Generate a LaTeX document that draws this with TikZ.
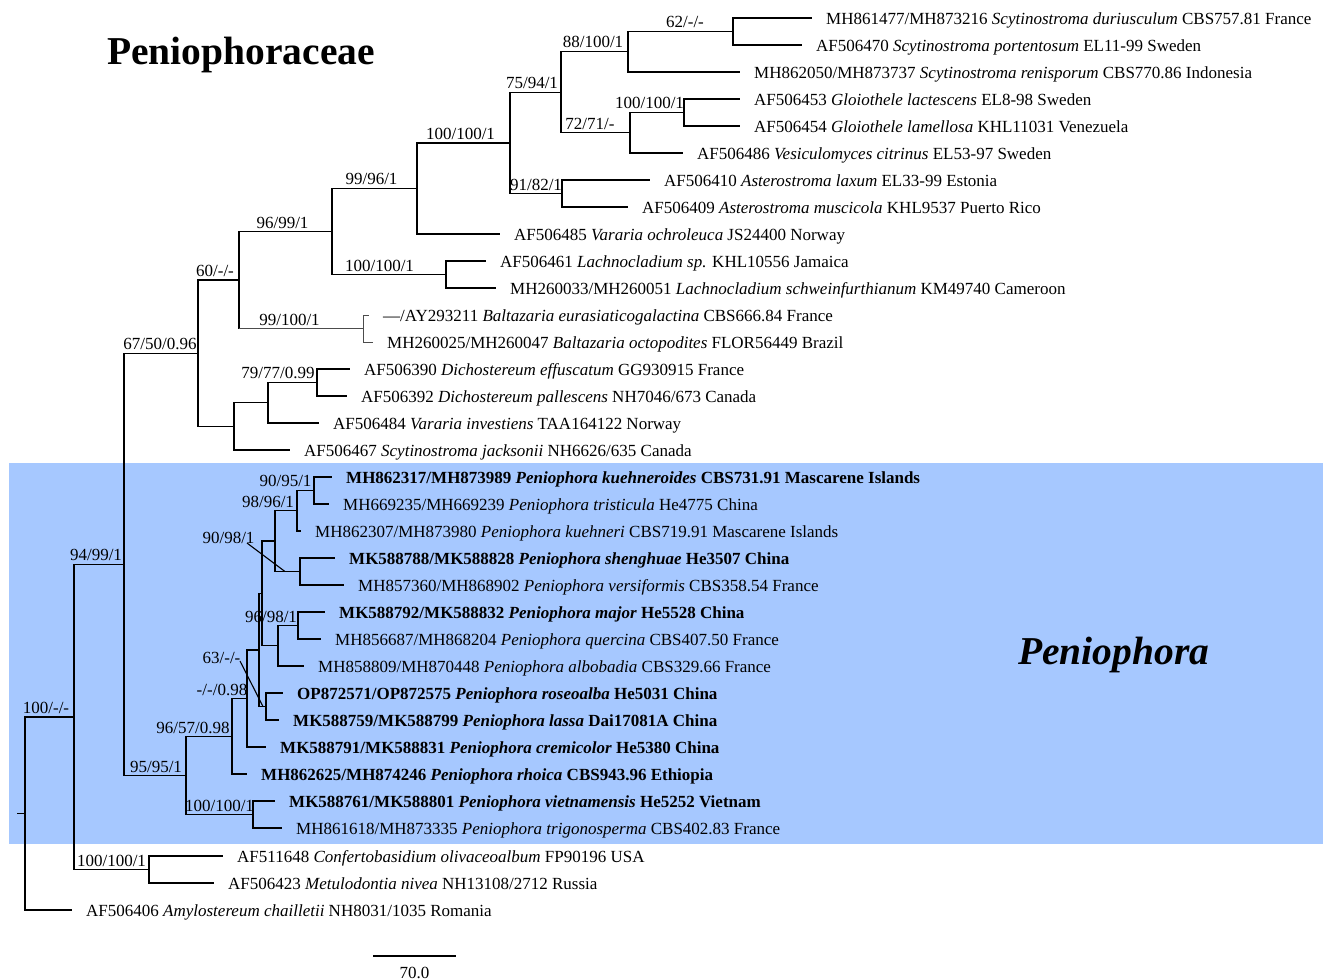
\documentclass[tikz,border=0pt]{standalone}
\usepackage{fontspec}
\setmainfont{Liberation Serif}
\definecolor{penblue}{RGB}{166,200,255}
\begin{document}
\begin{tikzpicture}[x=1pt,y=-1pt,
  br/.style={line width=1.25pt},
  thinbr/.style={line width=0.6pt, black!70},
  leaf/.style={anchor=west, inner xsep=14pt, inner ysep=0pt, text height=12.8pt, text depth=0pt, font=\fontsize{17}{20}\selectfont},
  bs/.style={anchor=base, inner sep=0pt, font=\fontsize{17}{20}\selectfont},
  lead/.style={line width=1.1pt}]
\useasboundingbox (0,0) rectangle (1323,980);
\fill[penblue] (9,463) rectangle (1323,844);

% titles
\node[anchor=base west, inner sep=0pt, font=\fontsize{39.5}{44}\selectfont\bfseries] (fam) at (107,64) {Peniophoraceae};
\node[anchor=base west, inner sep=0pt, font=\fontsize{39.5}{44}\selectfont\bfseries\itshape] (gen) at (1018,664) {Peniophora};

% leaves
\node[leaf] (t1) at (812,18) {MH861477/MH873216 \textit{Scytinostroma duriusculum} CBS757.81 France};
\node[leaf] (t2) at (802,45) {AF506470 \textit{Scytinostroma portentosum} EL11-99 Sweden};
\node[leaf] (t3) at (740,72) {MH862050/MH873737 \textit{Scytinostroma renisporum} CBS770.86 Indonesia};
\node[leaf] (t4) at (740,99) {AF506453 \textit{Gloiothele lactescens} EL8-98 Sweden};
\node[leaf] (t5) at (740,126) {AF506454 \textit{Gloiothele lamellosa} KHL11031 Venezuela};
\node[leaf] (t6) at (683,153) {AF506486 \textit{Vesiculomyces citrinus} EL53-97 Sweden};
\node[leaf] (t7) at (650,180) {AF506410 \textit{Asterostroma laxum} EL33-99 Estonia};
\node[leaf] (t8) at (628,207) {AF506409 \textit{Asterostroma muscicola} KHL9537 Puerto Rico};
\node[leaf] (t9) at (500,234) {AF506485 \textit{Vararia ochroleuca} JS24400 Norway};
\node[leaf] (t10) at (486,261) {AF506461 \textit{Lachnocladium sp.} KHL10556 Jamaica};
\node[leaf] (t11) at (496,288) {MH260033/MH260051 \textit{Lachnocladium schweinfurthianum} KM49740 Cameroon};
\node[leaf] (t12) at (369,315) {—/AY293211 \textit{Baltazaria eurasiaticogalactina} CBS666.84 France};
\node[leaf] (t13) at (373,342) {MH260025/MH260047 \textit{Baltazaria octopodites} FLOR56449 Brazil};
\node[leaf] (t14) at (350,369) {AF506390 \textit{Dichostereum effuscatum} GG930915 France};
\node[leaf] (t15) at (347,396) {AF506392 \textit{Dichostereum pallescens} NH7046/673 Canada};
\node[leaf] (t16) at (319,423) {AF506484 \textit{Vararia investiens} TAA164122 Norway};
\node[leaf] (t17) at (290,450) {AF506467 \textit{Scytinostroma jacksonii} NH6626/635 Canada};
\node[leaf] (t18) at (332,477) {\bfseries MH862317/MH873989 \textit{Peniophora kuehneroides} CBS731.91 Mascarene Islands};
\node[leaf] (t19) at (329,504) {MH669235/MH669239 \textit{Peniophora tristicula} He4775 China};
\node[leaf] (t20) at (301,531) {MH862307/MH873980 \textit{Peniophora kuehneri} CBS719.91 Mascarene Islands};
\node[leaf] (t21) at (335,558) {\bfseries MK588788/MK588828 \textit{Peniophora shenghuae} He3507 China};
\node[leaf] (t22) at (344,585) {MH857360/MH868902 \textit{Peniophora versiformis} CBS358.54 France};
\node[leaf] (t23) at (325,612) {\bfseries MK588792/MK588832 \textit{Peniophora major} He5528 China};
\node[leaf] (t24) at (321,639) {MH856687/MH868204 \textit{Peniophora quercina} CBS407.50 France};
\node[leaf] (t25) at (304,666) {MH858809/MH870448 \textit{Peniophora albobadia} CBS329.66 France};
\node[leaf] (t26) at (283,693) {\bfseries OP872571/OP872575 \textit{Peniophora roseoalba} He5031 China};
\node[leaf] (t27) at (279,720) {\bfseries MK588759/MK588799 \textit{Peniophora lassa} Dai17081A China};
\node[leaf] (t28) at (266,747) {\bfseries MK588791/MK588831 \textit{Peniophora cremicolor} He5380 China};
\node[leaf] (t29) at (247,774) {\bfseries MH862625/MH874246 \textit{Peniophora rhoica} CBS943.96 Ethiopia};
\node[leaf] (t30) at (275,801) {\bfseries MK588761/MK588801 \textit{Peniophora vietnamensis} He5252 Vietnam};
\node[leaf] (t31) at (282,828) {MH861618/MH873335 \textit{Peniophora trigonosperma} CBS402.83 France};
\node[leaf] (t32) at (223,856) {AF511648 \textit{Confertobasidium olivaceoalbum} FP90196 USA};
\node[leaf] (t33) at (214,883) {AF506423 \textit{Metulodontia nivea} NH13108/2712 Russia};
\node[leaf] (t34) at (72,910) {AF506406 \textit{Amylostereum chailletii} NH8031/1035 Romania};

% internal nodes
\coordinate (n62) at (733,31.5);
\coordinate (n88) at (628,51.75);
\coordinate (nG) at (684,112.5);
\coordinate (n72) at (630,132.75);
\coordinate (n75) at (561,92.25);
\coordinate (n91) at (562,193.5);
\coordinate (nA1) at (510,142.9);
\coordinate (n99) at (417,188.4);
\coordinate (nL) at (446,274.5);
\coordinate (n96) at (332,231.5);
\coordinate (nB) at (363,328.5);
\coordinate (n60) at (239,280);
\coordinate (n79) at (317,382.5);
\coordinate (nD1) at (268,402.75);
\coordinate (nD2) at (234,426.4);
\coordinate (n67) at (198,353.2);
\coordinate (n9095) at (314,490.5);
\coordinate (n9896) at (297,510.75);
\coordinate (nMK) at (300,571.5);
\coordinate (n9098) at (275,541.1);
\coordinate (n9698) at (298,625.5);
\coordinate (nQ) at (278,645.75);
\coordinate (nB2) at (262,593.4);
\coordinate (nOP) at (266,706.5);
\coordinate (nA) at (259,650);
\coordinate (n0098) at (247,698.5);
\coordinate (n9657) at (232,736.25);
\coordinate (nV) at (253,814.5);
\coordinate (n9595) at (186,775.4);
\coordinate (n94) at (124,564.5);
\coordinate (nC) at (149,869.5);
\coordinate (n100) at (74,717);
\coordinate (root) at (25,813.5);
\coordinate (stub) at (17,813.5);

% branches
\draw[br] (n62) |- (t1.west); \draw[br] (n62) |- (t2.west);
\draw[br] (n88) |- (n62); \draw[br] (n88) |- (t3.west);
\draw[br] (nG) |- (t4.west); \draw[br] (nG) |- (t5.west);
\draw[br] (n72) |- (nG); \draw[br] (n72) |- (t6.west);
\draw[br] (n75) |- (n88); \draw[br] (n75) |- (n72);
\draw[br] (n91) |- (t7.west); \draw[br] (n91) |- (t8.west);
\draw[br] (nA1) |- (n75); \draw[br] (nA1) |- (n91);
\draw[br] (n99) |- (nA1); \draw[br] (n99) |- (t9.west);
\draw[br] (nL) |- (t10.west); \draw[br] (nL) |- (t11.west);
\draw[br] (n96) |- (n99); \draw[br] (n96) |- (nL);
\draw[thinbr] (nB) |- (t12.west); \draw[thinbr] (nB) |- (t13.west);
\draw[br] (n60) |- (n96); \draw[br] (n60) -- (n60 |- nB);
\draw[thinbr] (n60 |- nB) -- (nB);
\draw[br] (n79) |- (t14.west); \draw[br] (n79) |- (t15.west);
\draw[br] (nD1) |- (n79); \draw[br] (nD1) |- (t16.west);
\draw[br] (nD2) |- (nD1); \draw[br] (nD2) |- (t17.west);
\draw[br] (n67) |- (n60); \draw[br] (n67) |- (nD2);
\draw[br] (n9095) |- (t18.west); \draw[br] (n9095) |- (t19.west);
\draw[br] (n9896) |- (n9095); \draw[br] (n9896) |- (t20.west);
\draw[br] (nMK) |- (t21.west); \draw[br] (nMK) |- (t22.west);
\draw[br] (n9098) |- (n9896); \draw[br] (n9098) |- (nMK);
\draw[br] (n9698) |- (t23.west); \draw[br] (n9698) |- (t24.west);
\draw[br] (nQ) |- (n9698); \draw[br] (nQ) |- (t25.west);
\draw[br] (nB2) |- (n9098); \draw[br] (nB2) |- (nQ);
\draw[br] (nOP) |- (t26.west); \draw[br] (nOP) |- (t27.west);
\draw[br] (nA) |- (nB2); \draw[br] (nA) |- (nOP);
\draw[br] (n0098) |- (nA); \draw[br] (n0098) |- (t28.west);
\draw[br] (n9657) |- (n0098); \draw[br] (n9657) |- (t29.west);
\draw[br] (nV) |- (t30.west); \draw[br] (nV) |- (t31.west);
\draw[br] (n9595) |- (n9657); \draw[br] (n9595) |- (nV);
\draw[br] (n94) |- (n67); \draw[br] (n94) |- (n9595);
\draw[br] (nC) |- (t32.west); \draw[br] (nC) |- (t33.west);
\draw[br] (n100) |- (n94); \draw[br] (n100) |- (nC);
\draw[br] (root) |- (n100); \draw[br] (root) |- (t34.west);
\draw[br] (stub) -- (root);

% support values
\node[bs] (s62) at (685,27) {62/-/-};
\node[bs] (s88) at (593,47.5) {88/100/1};
\node[bs] (s75) at (532,88.5) {75/94/1};
\node[bs] (sG) at (649.5,108.5) {100/100/1};
\node[bs] (s72) at (590,129) {72/71/-};
\node[bs] (sA1) at (460.5,139.4) {100/100/1};
\node[bs] (s99) at (371.5,184.5) {99/96/1};
\node[bs] (s91) at (536,190) {91/82/1};
\node[bs] (s96) at (282.5,228) {96/99/1};
\node[bs] (s60) at (215,276) {60/-/-};
\node[bs] (sL) at (379.5,271) {100/100/1};
\node[bs] (sB) at (289.5,325) {99/100/1};
\node[bs] (s67) at (160,349.5) {67/50/0.96};
\node[bs] (s79) at (278,378.5) {79/77/0.99};
\node[bs] (s9095) at (285.5,486) {90/95/1};
\node[bs] (s9896) at (268,507) {98/96/1};
\node[bs] (s9098) at (228.5,543) {90/98/1};
\node[bs] (s9698) at (271,622.5) {96/98/1};
\node[bs] (s63) at (221.5,663) {63/-/-};
\node[bs] (s0098) at (222,695.5) {-/-/0.98};
\node[bs] (s9657) at (193,733.5) {96/57/0.98};
\node[bs] (s9595) at (156,772.5) {95/95/1};
\node[bs] (sV) at (219.5,811.5) {100/100/1};
\node[bs] (s94) at (96,560.5) {94/99/1};
\node[bs] (s100) at (46,713) {100/-/-};
\node[bs] (sC) at (111.5,866) {100/100/1};

% leader lines
\coordinate (l1a) at (247,543);
\coordinate (l1b) at (285,571.5);
\coordinate (l2a) at (240,661);
\coordinate (l2b) at (263,706.5);
\draw[lead] (l1a) -- (l1b);
\draw[lead] (l2a) -- (l2b);

% scale bar
\coordinate (sb1) at (373,956);
\coordinate (sb2) at (456,956);
\draw[line width=1.2pt] (sb1) -- (sb2);
\node[bs] (sbl) at (414.5,978) {70.0};
\end{tikzpicture}
\end{document}
